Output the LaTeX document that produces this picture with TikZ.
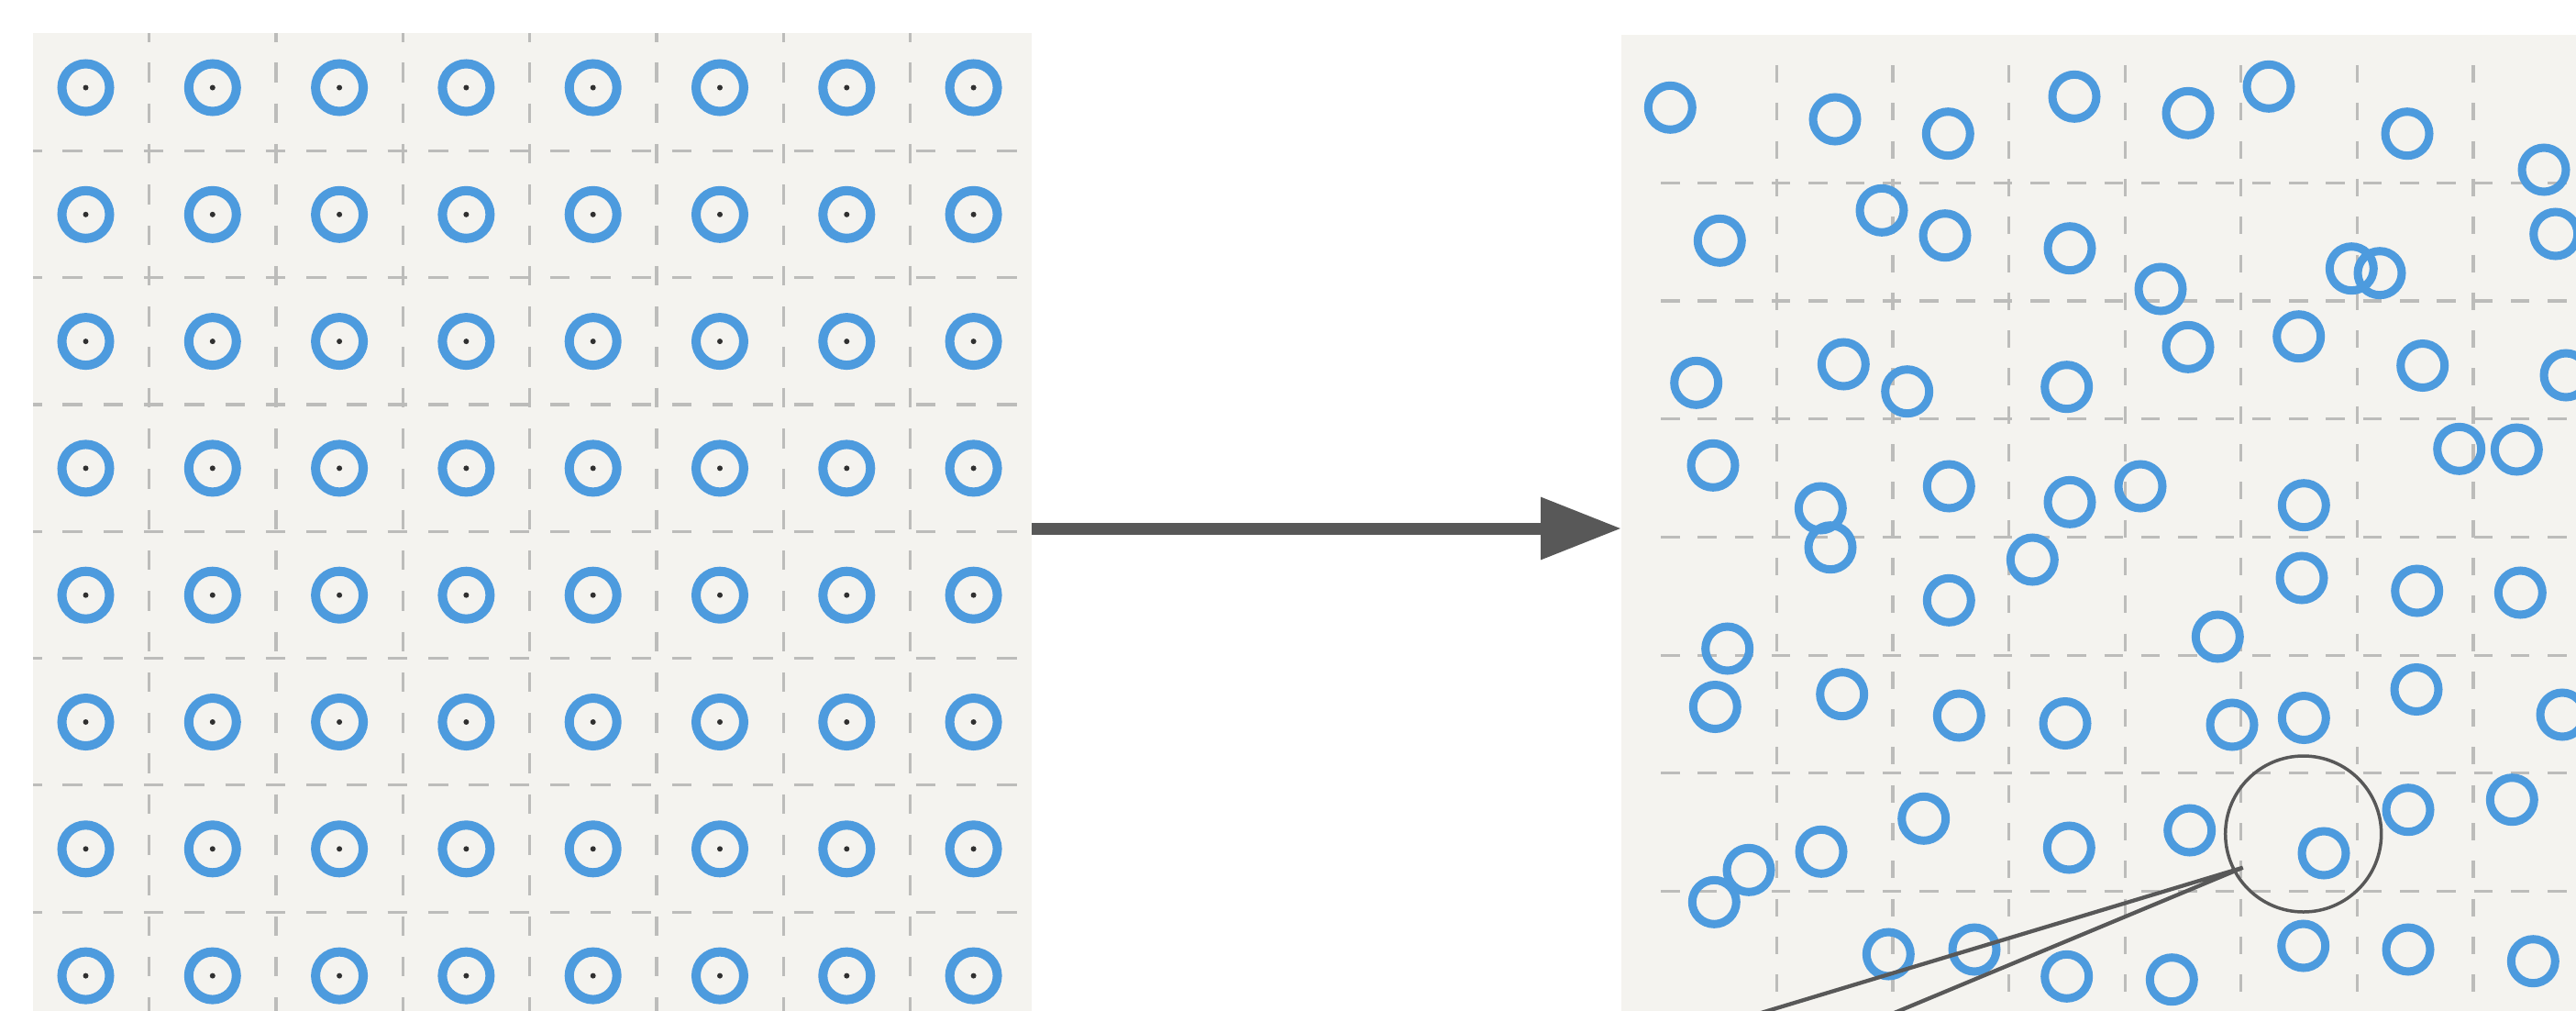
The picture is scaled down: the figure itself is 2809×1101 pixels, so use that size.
\documentclass[tikz,border=0pt]{standalone}
\usetikzlibrary{arrows.meta}
\definecolor{panelbg}{RGB}{244,243,239}
\definecolor{ringblue}{RGB}{77,155,222}
\definecolor{gridgray}{RGB}{188,188,186}
\definecolor{arrowgray}{RGB}{88,88,88}
\definecolor{dotcol}{RGB}{48,48,48}
\tikzset{
  panel/.style={rectangle, fill=panelbg, draw=none, inner sep=0pt, outer sep=0pt, anchor=north west},
  leftgrid/.style={draw=gridgray, line width=3.2pt, dash pattern=on 21.5pt off 22.8pt},
  rightvgrid/.style={draw=gridgray, line width=3.2pt, dash pattern=on 19pt off 22.3pt},
  righthgrid/.style={draw=gridgray, line width=3.2pt, dash pattern=on 20.5pt off 19.8pt},
  leftring/.style={draw=ringblue, line width=10pt},
  rightring/.style={draw=ringblue, line width=9pt},
  centerdot/.style={fill=dotcol},
  lens/.style={circle, draw=arrowgray, line width=3.5pt, minimum size=170pt, inner sep=0pt, outer sep=0pt},
  lensline/.style={draw=arrowgray, line width=4.3pt, line join=miter},
  bigarrow/.style={draw=arrowgray, line width=13pt, -{Triangle[length=88pt,width=65pt]}}
}
\begin{document}
\begin{tikzpicture}[x=1pt,y=-1pt]
\useasboundingbox (0,0) rectangle (2809,1101);
\fill[white] (0,0) rectangle (2809,1101);

% panels
\node[panel, minimum width=1089pt, minimum height=1080pt] (leftpanel) at (36,36) {};
\node[panel, minimum width=1062pt, minimum height=1076pt] (rightpanel) at (1768,38) {};

% left grid
\begin{scope}
\clip (leftpanel.north west) rectangle (leftpanel.south east);
\foreach \k in {0,...,6} {
  \draw[leftgrid] ({162.7+138.3*\k},24) -- ({162.7+138.3*\k},1130);
  \draw[leftgrid] (24,{164.3+138.3*\k}) -- (1130,{164.3+138.3*\k});
}
\end{scope}

% right grid
\begin{scope}
\clip (rightpanel.north west) rectangle (rightpanel.south east);
\foreach \k in {0,...,7} {
  \draw[rightvgrid] ({1937.3+126.6*\k},71) -- ({1937.3+126.6*\k},1130);
}
\foreach \k in {0,...,6} {
  \draw[righthgrid] (1811,{199.3+128.7*\k}) -- (2840,{199.3+128.7*\k});
}
\end{scope}

% left rings
\foreach \i in {0,...,7} {
  \foreach \j in {0,...,7} {
    \draw[leftring] ({93.5+138.3*\i},{95.5+138.3*\j}) circle[radius=26pt];
    \fill[centerdot] ({93.5+138.3*\i},{95.5+138.3*\j}) circle[radius=3pt];
  }
}

% right rings (scattered)
\begin{scope}
\clip (rightpanel.north west) rectangle (rightpanel.south east);
\foreach \x/\y in {
  1821.3/117.3, 2001/130, 2124.3/145.7, 2262/105.3, 2386/123.3, 2474/94.3, 2625/145.7, 2774/185,
  1875.3/262.3, 2052/229.3, 2121/256.7, 2257/270.7, 2356/315, 2564.3/292.7, 2595/297.7, 2786.7/255,
  1849.7/417.3, 2010.3/397, 2079.7/426.7, 2253.7/421.7, 2386/378.3, 2506.7/366.7, 2641.7/398.5, 2798/409,
  1868/507.3, 1985.3/554, 1996/596.7, 2125.3/530, 2257/547.3, 2216.3/610, 2334/530, 2512.3/550.7,
  2681.7/489.3, 2744.3/490, 2125.3/654.3, 2510/630, 2635.7/644, 2748.3/646, 1883.7/707, 2418.3/694,
  1870.3/770.5, 2008.7/756.7, 2136.3/780, 2252/788.5, 2434/790, 2512.3/782.5, 2635/751.5, 2794/779,
  2097.7/892.3, 1986/928.3, 1907/948.3, 1869.3/983.3, 2256.3/924, 2387.7/905, 2534/930, 2626/882.7,
  2739.3/871.7, 2059.3/1040, 2153/1035, 2253.7/1064.3, 2368.3/1067.7, 2511.7/1031, 2626/1035, 2762.3/1047.7}
{
  \draw[rightring] (\x,\y) circle[radius=24pt];
}
\end{scope}

% magnifier
\node[lens] (lens) at (2511.7,909) {};
\coordinate (lenstip) at (2445.7,945.7);
\coordinate (zoomendA) at (1601.9,1200);
\coordinate (zoomendB) at (1835.2,1200);
\draw[lensline] (zoomendA) -- (lenstip) -- (zoomendB);

% arrow
\draw[bigarrow] (leftpanel.east) -- (rightpanel.west);
\end{tikzpicture}
\end{document}
